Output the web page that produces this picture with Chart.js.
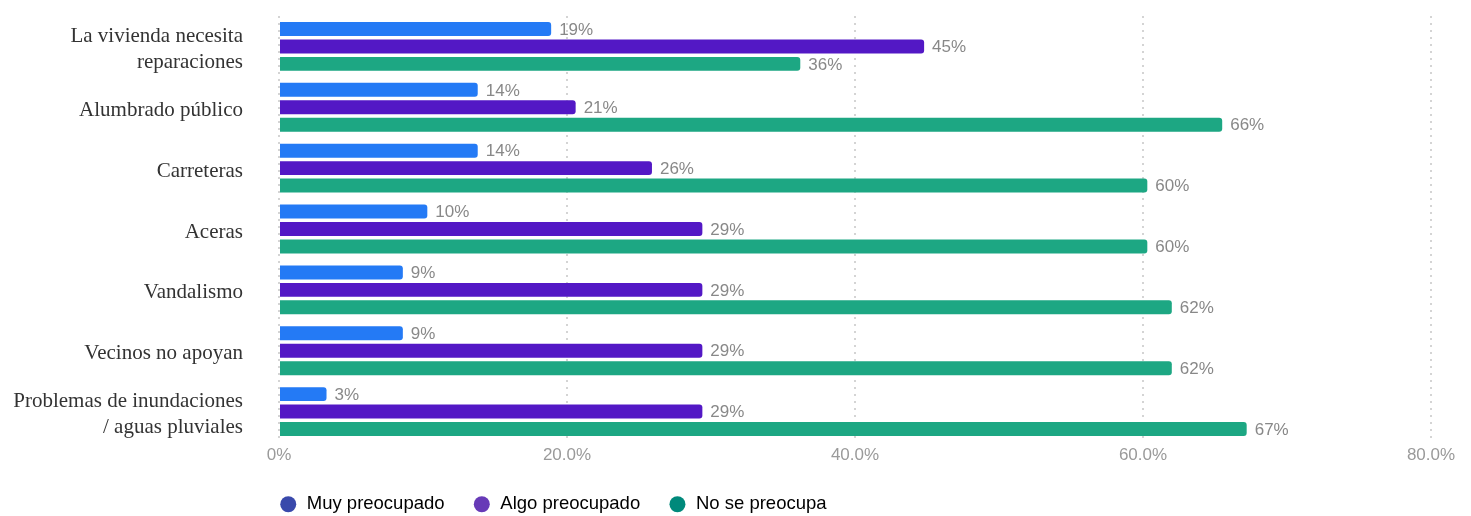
<!DOCTYPE html>
<html lang="es">
<head>
<meta charset="utf-8">
<title>Preocupaciones del vecindario</title>
<script src="https://cdn.jsdelivr.net/npm/chart.js@4/dist/chart.umd.min.js"></script>
<style>
  html, body { margin: 0; padding: 0; background: #ffffff; }
  #wrap { position: relative; width: 1471px; height: 516px; }
</style>
</head>
<body>
<div id="wrap"><canvas id="chart"></canvas></div>
<script>
// categories (multi-line labels as arrays)
const categories = [
  ["La vivienda necesita", "reparaciones"],
  "Alumbrado público",
  "Carreteras",
  "Aceras",
  "Vandalismo",
  "Vecinos no apoyan",
  ["Problemas de inundaciones", "/ aguas pluviales"],
];

const seriesNames = ["Muy preocupado", "Algo preocupado", "No se preocupa"];

// percent values
const muyPreocupado = [18.9, 13.8, 13.8, 10.3, 8.6, 8.6, 3.3];
const algoPreocupado = [44.8, 20.6, 25.9, 29.4, 29.4, 29.4, 29.4];
const noSePreocupa = [36.2, 65.5, 60.3, 60.3, 62.0, 62.0, 67.2];

const xTicks = [0, 20, 40, 60, 80];

const barColors = ["#247af5", "#5318c5", "#1da783"];
const legendColors = ["#3949ab", "#673ab7", "#00897b"];

// draws "NN%" just past the end of every bar
const barValueLabels = {
  id: "barValueLabels",
  afterDatasetsDraw(chart) {
    const { ctx } = chart;
    ctx.save();
    ctx.font = "17px 'Liberation Sans', Arial, sans-serif";
    ctx.fillStyle = "#888888";
    ctx.textAlign = "left";
    ctx.textBaseline = "middle";
    chart.data.datasets.forEach((ds, i) => {
      const meta = chart.getDatasetMeta(i);
      if (meta.hidden) return;
      meta.data.forEach((bar, j) => {
        ctx.fillText(`${Math.round(ds.data[j])}%`, bar.x + 8, bar.y + 1);
      });
    });
    ctx.restore();
  },
};

// legend: fixed height, and start the first item right at the chart's left edge
const LEGEND_PAD = 28;
const legendTweaks = {
  id: "legendTweaks",
  beforeInit(chart) {
    const origFit = chart.legend.fit;
    chart.legend.fit = function fit() {
      origFit.bind(chart.legend)();
      this.height = 49;
    };
  },
  afterLayout(chart) {
    chart.legend.left -= LEGEND_PAD;
    chart.legend.right -= LEGEND_PAD;
  },
};

new Chart(document.getElementById("chart"), {
  type: "bar",
  data: {
    labels: categories,
    datasets: [muyPreocupado, algoPreocupado, noSePreocupa].map((data, i) => ({
      label: seriesNames[i],
      data,
      backgroundColor: barColors[i],
      borderRadius: 3,
      categoryPercentage: 0.86,
      barPercentage: 0.8,
    })),
  },
  plugins: [barValueLabels, legendTweaks],
  options: {
    indexAxis: "y",
    responsive: true,
    maintainAspectRatio: false,
    animation: false,
    layout: { padding: { top: 16, right: 40, bottom: 0, left: 0 } },
    scales: {
      x: {
        min: 0,
        max: 80,
        afterBuildTicks(scale) {
          scale.ticks = xTicks.map((v) => ({ value: v }));
        },
        afterFit(scale) {
          scale.height = 25;
        },
        grid: {
          color: "#d4d4d4",
          lineWidth: 2,
          drawTicks: false,
        },
        border: { display: false, dash: [2, 5] },
        ticks: {
          padding: 3,
          color: "#9a9a9a",
          font: { family: "'Liberation Sans', Arial, sans-serif", size: 17 },
          callback: (v) => (v === 0 ? "0%" : `${Number(v).toFixed(1)}%`),
        },
      },
      y: {
        afterFit(scale) {
          scale.width = 279;
          scale.paddingTop = 0;
          scale.paddingBottom = 0;
        },
        grid: { display: false, drawTicks: false },
        border: { display: false },
        ticks: {
          padding: 36,
          labelOffset: 3,
          color: "#333333",
          font: { family: "'Liberation Serif', 'Times New Roman', serif", size: 21, lineHeight: 1.2 },
        },
      },
    },
    plugins: {
      legend: {
        position: "bottom",
        align: "start",
        fullSize: false,
        labels: {
          usePointStyle: true,
          pointStyle: "circle",
          boxWidth: 19,
          boxHeight: 11.3,
          padding: LEGEND_PAD,
          color: "#333333",
          font: { family: "'Liberation Sans', Arial, sans-serif", size: 18.5 },
          generateLabels(chart) {
            return chart.data.datasets.map((ds, i) => ({
              text: ds.label,
              fillStyle: legendColors[i],
              strokeStyle: legendColors[i],
              lineWidth: 0,
              pointStyle: "circle",
              hidden: !chart.isDatasetVisible(i),
              datasetIndex: i,
            }));
          },
        },
      },
      tooltip: { enabled: true },
    },
  },
});
</script>
</body>
</html>
